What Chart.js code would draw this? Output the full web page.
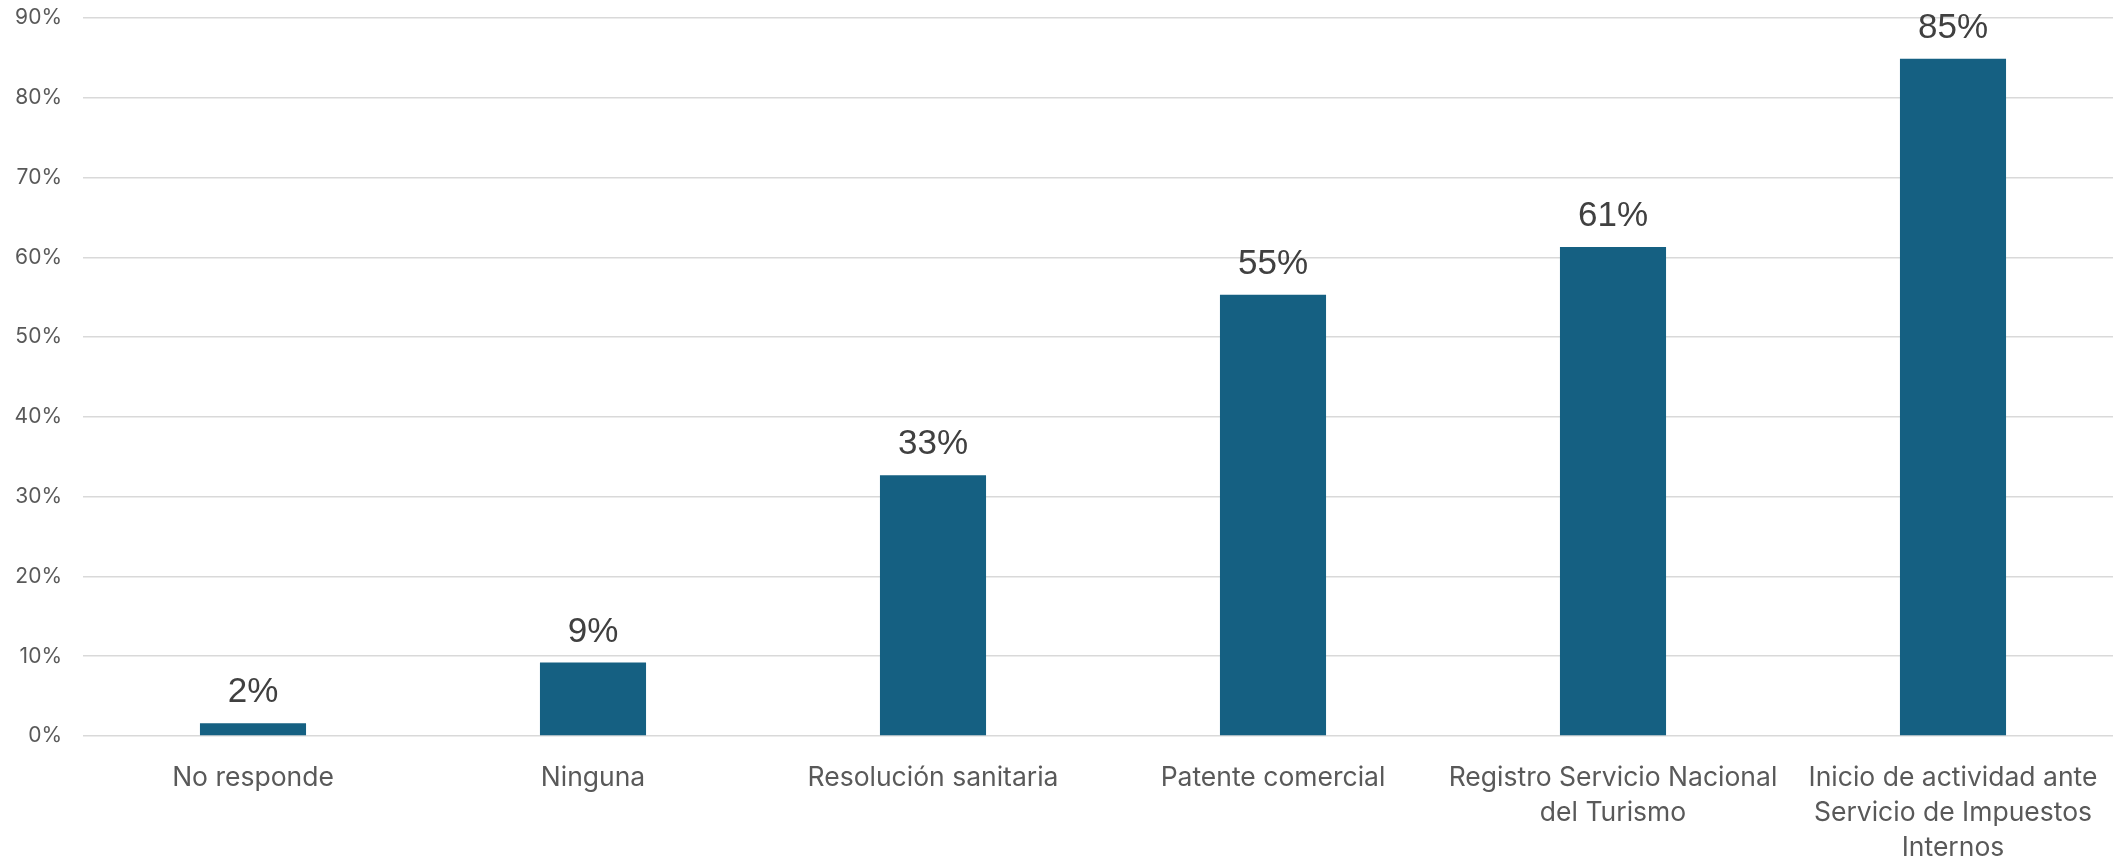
<!DOCTYPE html>
<html>
<head>
<meta charset="utf-8">
<script src="https://cdn.jsdelivr.net/npm/chart.js@4.4.1/dist/chart.umd.min.js"></script>
<style>
  html, body { margin: 0; padding: 0; background: #fff; overflow: hidden; }
  #wrap { width: 2123px; height: 860px; position: relative; }
</style>
</head>
<body>
<div id="wrap"><canvas id="chart"></canvas></div>
<script>
// --- DATA ---
const categories = [
  'No responde',
  'Ninguna',
  'Resolución sanitaria',
  'Patente comercial',
  ['Registro Servicio Nacional', 'del Turismo'],
  ['Inicio de actividad ante', 'Servicio de Impuestos', 'Internos']
];
const shares = [0.016, 0.092, 0.327, 0.553, 0.613, 0.849];
const yTicks = [0, 0.1, 0.2, 0.3, 0.4, 0.5, 0.6, 0.7, 0.8, 0.9];

const pct = v => Math.round(v * 100) + '%';

// value labels above each bar
const barLabels = {
  id: 'barLabels',
  afterDatasetsDraw(chart) {
    const ctx = chart.ctx;
    const meta = chart.getDatasetMeta(0);
    ctx.save();
    ctx.font = '35px "Liberation Sans", Arial, sans-serif';
    ctx.fillStyle = '#404040';
    ctx.textAlign = 'center';
    ctx.textBaseline = 'alphabetic';
    meta.data.forEach((bar, i) => {
      ctx.fillText(pct(shares[i]), bar.x, bar.y - 21);
    });
    ctx.restore();
  }
};

new Chart(document.getElementById('chart'), {
  type: 'bar',
  data: {
    labels: categories,
    datasets: [{
      data: shares,
      backgroundColor: '#156082',
      borderWidth: 0,
      barPercentage: 1,
      categoryPercentage: 0.312
    }]
  },
  options: {
    responsive: true,
    maintainAspectRatio: false,
    animation: false,
    layout: { padding: { top: 18, right: 0, left: 0, bottom: 0 } },
    plugins: { legend: { display: false }, tooltip: { enabled: false } },
    scales: {
      x: {
        grid: { display: false, drawTicks: false },
        border: { display: false },
        ticks: {
          color: '#595959',
          font: { family: 'Inter', size: 26.5, lineHeight: 1.32 },
          padding: 25,
          maxRotation: 0,
          autoSkip: false
        },
        afterFit(scale) { scale.height = 124; }
      },
      y: {
        min: 0,
        max: 0.9,
        afterBuildTicks(scale) { scale.ticks = yTicks.map(v => ({ value: v })); },
        grid: { color: '#d9d9d9', lineWidth: 1.5, drawTicks: false },
        border: { display: false },
        ticks: {
          color: '#595959',
          font: { family: 'Inter', size: 21 },
          padding: 21,
          callback: v => pct(v)
        },
        afterFit(scale) { scale.width = 83; scale.paddingTop = 0; }
      }
    }
  },
  plugins: [barLabels]
});
</script>
</body>
</html>
